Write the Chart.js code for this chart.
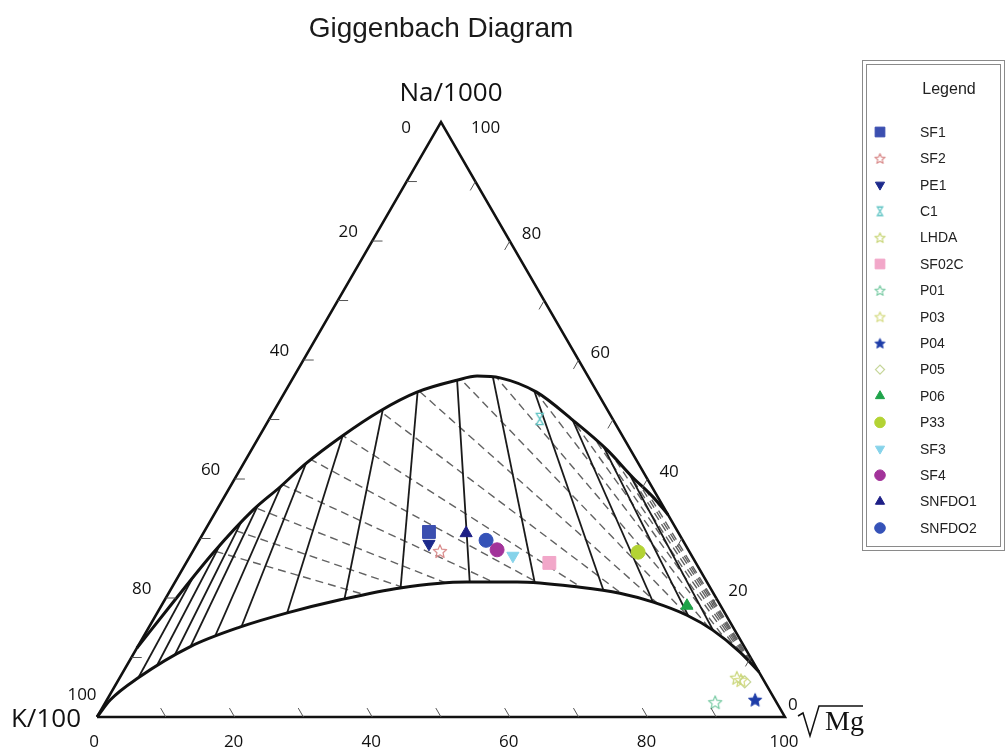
<!DOCTYPE html>
<html lang="en">
<head>
<meta charset="utf-8">
<title>Giggenbach Diagram</title>
<script src="https://cdn.jsdelivr.net/npm/chart.js@4.4.1/dist/chart.umd.min.js"></script>
<style>
  html, body { margin: 0; padding: 0; background: #fff; }
  #wrap { position: relative; width: 1007px; height: 747px; }
</style>
</head>
<body>
<div id="wrap"><canvas id="giggenbachChart" width="1007" height="747"></canvas></div>
<script>
// every point is read as Na/1000 % and sqrt(Mg) %, K/100 is what is left to 100
const sampleNames = ["SF1", "SF2", "PE1", "C1", "LHDA", "SF02C", "P01", "P03", "P04", "P05", "P06", "P33", "SF3", "SF4", "SNFDO1", "SNFDO2"];
const sampleNa = [31.1, 27.9, 29.1, 50.1, 6.6, 25.9, 2.5, 6.2, 2.9, 5.9, 18.7, 27.7, 27.1, 28.1, 30.9, 29.7];
const sampleMg = [32.7, 35.9, 33.7, 39.3, 89.7, 52.8, 88.6, 90.5, 94.2, 91.2, 76.4, 64.8, 46.9, 44.1, 38.2, 41.7];
const sampleShapes = ["square", "star", "down", "hourglass", "star", "square", "star", "star", "starFilled", "diamond", "up", "circle", "down", "circle", "up", "circle"];
const sampleColors = ["#3b4fb0", "#d98a8a", "#1c2a8c", "#5fc4c4", "#c9d67a", "#f2a7c9", "#7ccca6", "#d6dc86", "#1d3ca8", "#c6d69a", "#1fa34a", "#b3d334", "#86d3ea", "#a2339a", "#1d1f86", "#3552b8"];

// full equilibrium curve (upper) and the lower boundary curve
const fullEqNa = [11.6, 19.7, 27.6, 34.8, 38.7, 42.5, 47.2, 51.4, 54.6, 56.6, 57.3, 57.0, 54.6, 49.9, 44.9, 40.3, 37.0, 34.0];
const fullEqMg = [0.0, 1.5, 3.1, 5.3, 7.3, 9.0, 12.0, 15.4, 19.2, 24.0, 26.6, 30.1, 36.6, 44.2, 51.7, 57.7, 62.3, 66.0];
const lowerNa = [0, 2.9, 6.6, 11.8, 15.1, 17.5, 19.7, 21.7, 22.7, 22.7, 21.8, 20.8, 19.3, 17.1, 14.6, 10.9, 7.6];
const lowerMg = [0, 0.5, 2.7, 7.6, 13.2, 18.9, 25.5, 33.2, 42.4, 49.7, 59.3, 65.6, 71.2, 77.2, 82.2, 88.0, 92.4];

// solid lines come from the Na corner: sqrt(Mg) % where they would meet the base
const kMgLines = [2.9, 4.8, 6.8, 8.7, 12.0, 15.8, 22.9, 32.5, 42.5, 55.4, 67.6, 80.0, 88.2, 93.3, 96.3];
// dashed lines come from the Mg corner: Na % where they would meet the K-Na side
const kNaLines = [28.8, 32.8, 37.2, 42.2, 47.8, 53.8, 60.8, 68.0, 75.2, 81.0, 86.0, 89.4, 91.6, 93.4, 94.9, 96.1, 97.1];

const axisLabels = [0, 20, 40, 60, 80, 100];
const tickSteps = [10, 20, 30, 40, 50, 60, 70, 80, 90];

const SQ3 = Math.sqrt(3) / 2;
function toXY(na, mg) {
  return { x: mg + na / 2, y: na * SQ3 };
}

function starCanvas(r, color, filled) {
  const s = Math.ceil(r * 2 + 4);
  const c = document.createElement("canvas");
  c.width = s;
  c.height = s;
  const g = c.getContext("2d");
  g.translate(s / 2, s / 2 + r * 0.1);
  g.beginPath();
  for (let k = 0; k < 10; k++) {
    const rr = k % 2 ? r * 0.45 : r;
    const a = -Math.PI / 2 + (k * Math.PI) / 5;
    g.lineTo(rr * Math.cos(a), rr * Math.sin(a));
  }
  g.closePath();
  if (filled) {
    g.fillStyle = color;
    g.fill();
  }
  g.strokeStyle = color;
  g.lineWidth = filled ? 1 : 1.2;
  g.lineJoin = "round";
  g.stroke();
  return c;
}

function hourglassCanvas(r, color) {
  const s = Math.ceil(r * 2 + 4);
  const c = document.createElement("canvas");
  c.width = s;
  c.height = s;
  const g = c.getContext("2d");
  const w = r * 0.5, h = r * 0.8;
  g.translate(s / 2, s / 2);
  g.beginPath();
  g.moveTo(-w, -h);
  g.lineTo(w, -h);
  g.lineTo(-w, h);
  g.lineTo(w, h);
  g.closePath();
  g.strokeStyle = color;
  g.lineWidth = 1.3;
  g.stroke();
  return c;
}

function markerStyle(shape, color, r) {
  const base = { pointStyle: "circle", radius: r, rotation: 0, fill: color, stroke: color, width: 1 };
  if (shape === "square") return { ...base, pointStyle: "rect", radius: r * 1.3 };
  if (shape === "up") return { ...base, pointStyle: "triangle" };
  if (shape === "down") return { ...base, pointStyle: "triangle", rotation: 180 };
  if (shape === "diamond") return { ...base, pointStyle: "rectRot", radius: r * 0.85, fill: "rgba(0,0,0,0)", width: 1.3 };
  if (shape === "star") return { ...base, pointStyle: starCanvas(r, color, false) };
  if (shape === "starFilled") return { ...base, pointStyle: starCanvas(r, color, true) };
  if (shape === "hourglass") return { ...base, pointStyle: hourglassCanvas(r, color) };
  return base;
}

const plotStyles = sampleShapes.map((s, i) => markerStyle(s, sampleColors[i], 7));
const legendStyles = sampleShapes.map((s, i) => markerStyle(s, sampleColors[i], 5.3));

// --- datasets: samples on top, then curves, triangle, isotherms ---
const datasets = [];

sampleNames.forEach((name, i) => {
  const st = plotStyles[i];
  datasets.push({
    label: name,
    data: [toXY(sampleNa[i], sampleMg[i])],
    showLine: false,
    pointStyle: st.pointStyle,
    pointRadius: st.radius,
    pointRotation: st.rotation,
    pointBackgroundColor: st.fill,
    pointBorderColor: st.stroke,
    pointBorderWidth: st.width,
  });
});

const curveStyle = {
  showLine: true,
  pointRadius: 0,
  borderColor: "#111",
  borderWidth: 3,
  cubicInterpolationMode: "monotone",
  fill: false,
};
datasets.push({ ...curveStyle, label: "full equilibrium", role: "upper", data: fullEqNa.map((na, i) => toXY(na, fullEqMg[i])) });
datasets.push({ ...curveStyle, label: "lower curve", role: "lower", data: lowerNa.map((na, i) => toXY(na, lowerMg[i])) });

datasets.push({
  label: "triangle",
  showLine: true,
  pointRadius: 0,
  borderColor: "#111",
  borderWidth: 2.5,
  borderJoinStyle: "miter",
  data: [toXY(0, 0), toXY(0, 100), toXY(100, 0), toXY(0, 0)],
});

kMgLines.forEach((m) => {
  datasets.push({
    label: "tK-Mg",
    zone: true,
    showLine: true,
    pointRadius: 0,
    borderColor: "#1a1a1a",
    borderWidth: 1.8,
    data: [toXY(100, 0), toXY(0, m)],
  });
});

kNaLines.forEach((n) => {
  datasets.push({
    label: "tK-Na",
    zone: true,
    showLine: true,
    pointRadius: 0,
    borderColor: "#626262",
    borderWidth: 1.4,
    borderDash: [8, 5],
    data: [toXY(0, 100), toXY(n, 0)],
  });
});

// clip the isotherms to the band between the two curves
const zoneClip = {
  id: "zoneClip",
  beforeDatasetDraw(chart, args) {
    if (!chart.data.datasets[args.index].zone) return;
    const idx = (role) => chart.data.datasets.findIndex((d) => d.role === role);
    const upMeta = chart.getDatasetMeta(idx("upper"));
    const loMeta = chart.getDatasetMeta(idx("lower"));
    upMeta.dataset.updateControlPoints(chart.chartArea, "x");
    loMeta.dataset.updateControlPoints(chart.chartArea, "x");
    const up = upMeta.data;
    const lo = loMeta.data;
    const ctx = chart.ctx;
    ctx.save();
    ctx.beginPath();
    ctx.moveTo(up[0].x, up[0].y);
    for (let i = 1; i < up.length; i++) {
      ctx.bezierCurveTo(up[i - 1].cp2x, up[i - 1].cp2y, up[i].cp1x, up[i].cp1y, up[i].x, up[i].y);
    }
    ctx.lineTo(lo[lo.length - 1].x, lo[lo.length - 1].y);
    for (let i = lo.length - 1; i > 0; i--) {
      ctx.bezierCurveTo(lo[i].cp1x, lo[i].cp1y, lo[i - 1].cp2x, lo[i - 1].cp2y, lo[i - 1].x, lo[i - 1].y);
    }
    ctx.closePath();
    ctx.clip();
  },
  afterDatasetDraw(chart, args) {
    if (chart.data.datasets[args.index].zone) chart.ctx.restore();
  },
};

// ticks, tick labels, axis names, title and the legend box
const ternaryText = {
  id: "ternaryText",
  afterDraw(chart) {
    const ctx = chart.ctx;
    const P = (na, mg) => {
      const p = toXY(na, mg);
      return { x: chart.scales.x.getPixelForValue(p.x), y: chart.scales.y.getPixelForValue(p.y) };
    };
    const seg = (a, b) => {
      ctx.beginPath();
      ctx.moveTo(a.x, a.y);
      ctx.lineTo(b.x, b.y);
      ctx.stroke();
    };
    ctx.save();

    // ticks
    ctx.strokeStyle = "#555";
    ctx.lineWidth = 1;
    const L = 1.5;
    tickSteps.forEach((v) => {
      seg(P(0, v), P(L, v - L));
      seg(P(100 - v, 0), P(100 - v, L));
      seg(P(v, 100 - v), P(v - L, 100 - v));
    });

    // tick labels
    ctx.fillStyle = "#111";
    ctx.font = '17px "Open Sans"';
    ctx.textBaseline = "middle";
    ctx.textAlign = "center";
    axisLabels.forEach((v) => {
      const b = P(0, v);
      ctx.fillText(String(v), b.x - (v === 0 ? 3 : 1), b.y + 25);

      const l = P(100 - v, 0);
      let dx = -24, dy = -9;
      if (v === 0) { dx = -35; dy = 6; }
      if (v === 100) { dx = -15; dy = -22; }
      ctx.fillText(String(v), l.x + dx, l.y + dy);

      const r = P(v, 100 - v);
      let rx = 21, ry = -7;
      if (v === 100) { rx = 39; ry = 6; }
      if (v === 0) { rx = 12; ry = -12; }
      ctx.textAlign = "left";
      ctx.fillText(String(v), r.x + rx - 9, r.y + ry);
      ctx.textAlign = "center";
    });

    // corner names
    const apex = P(100, 0), kc = P(0, 0), mc = P(0, 100);
    ctx.font = '26px "Open Sans"';
    ctx.fillText("Na/1000", apex.x + 10, apex.y - 28);
    ctx.textAlign = "right";
    ctx.fillText("K/100", kc.x - 16, kc.y + 3);
    ctx.textAlign = "left";
    ctx.textBaseline = "alphabetic";
    ctx.font = '28px "Liberation Serif"';
    ctx.fillText("Mg", mc.x + 40, mc.y + 13);
    ctx.strokeStyle = "#111";
    ctx.lineWidth = 1.5;
    ctx.beginPath();
    ctx.moveTo(mc.x + 13, mc.y - 1);
    ctx.lineTo(mc.x + 18, mc.y - 4);
    ctx.lineTo(mc.x + 25, mc.y + 19);
    ctx.lineTo(mc.x + 34, mc.y - 11);
    ctx.lineTo(mc.x + 78, mc.y - 11);
    ctx.stroke();

    // title
    ctx.textAlign = "center";
    ctx.textBaseline = "middle";
    ctx.fillStyle = "#1a1a1a";
    ctx.font = '28px "Liberation Sans"';
    ctx.fillText("Giggenbach Diagram", apex.x, 29);

    // legend box
    ctx.strokeStyle = "#8a8a8a";
    ctx.lineWidth = 1;
    ctx.strokeRect(862.5, 60.5, 142, 490);
    ctx.strokeRect(866.5, 64.5, 134, 482);
    ctx.fillStyle = "#222";
    ctx.font = '16px "Liberation Sans"';
    ctx.fillText("Legend", 949, 90);
    ctx.font = '14px "Liberation Sans"';
    sampleNames.forEach((name, i) => {
      const y = 132 + i * 26.4;
      const st = legendStyles[i];
      ctx.fillStyle = st.fill;
      ctx.strokeStyle = st.stroke;
      ctx.lineWidth = st.width;
      Chart.helpers.drawPoint(ctx, { pointStyle: st.pointStyle, rotation: st.rotation, radius: st.radius, borderWidth: st.width }, 880, y);
      ctx.fillStyle = "#222";
      ctx.textAlign = "left";
      ctx.fillText(name, 920, y + 1);
    });
    ctx.restore();
  },
};

const PX = 6.88, PY = 6.87;
new Chart(document.getElementById("giggenbachChart").getContext("2d"), {
  type: "scatter",
  data: { datasets },
  options: {
    responsive: false,
    animation: false,
    events: [],
    layout: { padding: 0, autoPadding: false },
    plugins: { legend: { display: false }, tooltip: { enabled: false }, title: { display: false } },
    scales: {
      x: { type: "linear", display: false, min: -97 / PX, max: (1007 - 97) / PX },
      y: { type: "linear", display: false, min: -(747 - 717) / PY, max: 717 / PY },
    },
  },
  plugins: [zoneClip, ternaryText],
});
</script>
</body>
</html>
